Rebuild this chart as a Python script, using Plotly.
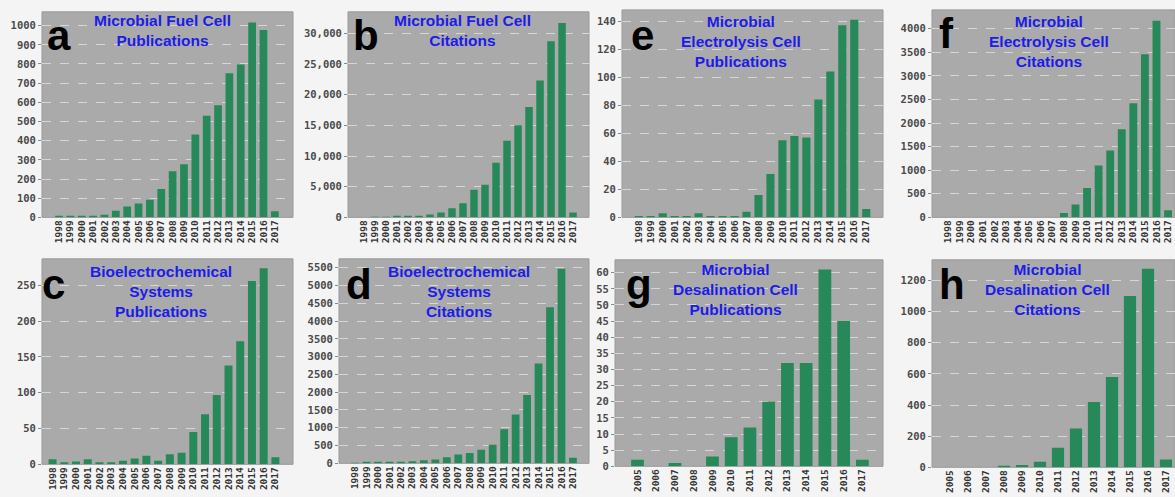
import plotly.graph_objects as go

W, H = 1175, 497

years_long = [str(y) for y in range(1998, 2018)]
years_short = [str(y) for y in range(2005, 2018)]

mfc_pub = [3, 8, 8, 8, 14, 35, 57, 72, 92, 148, 240, 277, 432, 530, 585, 752, 798, 1017, 978, 32]
mfc_cit = [0, 20, 80, 90, 120, 250, 450, 800, 1500, 2300, 4500, 5300, 8900, 12500, 15000, 18000, 22300, 28700, 31700, 800]
mec_pub = [1, 1, 3, 1, 1, 3, 1, 1, 1, 4, 16, 31, 55, 58, 57, 84, 104, 137, 141, 6]
mec_cit = [0, 0, 0, 0, 0, 0, 0, 0, 0, 0, 90, 270, 620, 1100, 1420, 1870, 2420, 3460, 4170, 150]
bes_pub = [7, 3, 4, 7, 3, 3, 5, 8, 12, 5, 14, 16, 45, 70, 97, 138, 172, 256, 274, 10]
bes_cit = [10, 15, 15, 15, 20, 60, 85, 110, 170, 250, 290, 380, 520, 960, 1370, 1920, 2810, 4390, 5470, 160]
mdc_pub = [2, 0, 1, 0, 3, 9, 12, 20, 32, 32, 61, 45, 2]
mdc_cit = [0, 0, 0, 8, 15, 35, 125, 250, 420, 580, 1100, 1275, 50]

letters = ["a", "b", "e", "f", "c", "d", "g", "h"]
titles = [
    "Microbial Fuel Cell<br>Publications",
    "Microbial Fuel Cell<br>Citations",
    "Microbial<br>Electrolysis Cell<br>Publications",
    "Microbial<br>Electrolysis Cell<br>Citations",
    "Bioelectrochemical<br>Systems<br>Publications",
    "Bioelectrochemical<br>Systems<br>Citations",
    "Microbial<br>Desalination Cell<br>Publications",
    "Microbial<br>Desalination Cell<br>Citations",
]

panels = [
    dict(xs=years_long, ys=mfc_pub, box=(42, 293, 12, 220), xr=[-1.5, 20.6], yr=[0, 1072], dt=100, fmt="", tx=162, ty=10, lx=45, ly=10),
    dict(xs=years_long, ys=mfc_cit, box=(348, 589, 12, 220), xr=[-1.45, 20.45], yr=[0, 33500], dt=5000, fmt=",", tx=462, ty=10, lx=351, ly=10),
    dict(xs=years_long, ys=mec_pub, box=(622, 883, 10, 220), xr=[-1.4, 20.4], yr=[0, 148], dt=20, fmt="", tx=741, ty=11, lx=629, ly=10),
    dict(xs=years_long, ys=mec_cit, box=(932, 1175, 10, 220), xr=[-1.4, 19.6], yr=[0, 4400], dt=500, fmt="", tx=1049, ty=11, lx=937, ly=8),
    dict(xs=years_long, ys=bes_pub, box=(42, 293, 262, 470), xr=[-0.9, 20.5], yr=[0, 287], dt=50, fmt="", tx=161, ty=264, lx=40, ly=262),
    dict(xs=years_long, ys=bes_cit, box=(339, 589, 262, 469), xr=[-1.4, 20.4], yr=[0, 5750], dt=500, fmt="", tx=459, ty=264, lx=344, ly=262),
    dict(xs=years_short, ys=mdc_pub, box=(615, 883, 263, 472), xr=[-1.2, 13.1], yr=[0, 64], dt=5, fmt="", tx=736, ty=262, lx=624, ly=262),
    dict(xs=years_short, ys=mdc_cit, box=(932, 1175, 263, 473), xr=[-1.0, 12.5], yr=[0, 1333], dt=200, fmt="", tx=1047, ty=262, lx=937, ly=262),
]

fig = go.Figure()
annotations = []
shapes = []
for i, p in enumerate(panels):
    n = "" if i == 0 else str(i + 1)
    x0, x1, y0, y1 = p["box"]
    fig.add_trace(go.Bar(
        x=p["xs"], y=p["ys"], xaxis="x" + n, yaxis="y" + n,
        marker=dict(color="#27895a", line=dict(width=0)), width=0.68,
        showlegend=False,
    ))
    fig.layout["xaxis" + n] = dict(
        domain=[x0 / W, min(x1 / W, 1)], anchor="y" + n, type="category",
        range=p["xr"], tickangle=-90, showgrid=False, zeroline=False,
        showline=False, ticks="",
        tickfont=dict(family="DejaVu Sans Mono", size=9.5, color="#333333", weight="bold"),
    )
    fig.layout["yaxis" + n] = dict(
        domain=[1 - y1 / H, 1 - y0 / H], anchor="x" + n, range=p["yr"],
        dtick=p["dt"], tick0=0, tickformat=p["fmt"],
        showgrid=True, gridcolor="#d6d6d6", griddash="dash", gridwidth=1,
        zeroline=False, showline=False, ticks="outside", ticklen=3,
        tickcolor="#888888",
        tickfont=dict(family="DejaVu Sans Mono", size=10.5, color="#4a4a4a", weight="bold"),
    )
    shapes.append(dict(type="rect", xref="paper", yref="paper",
                       x0=x0 / W, x1=min(x1 / W, 1), y0=1 - y1 / H, y1=1 - y0 / H,
                       fillcolor="#aaaaaa", line=dict(color="#999999", width=1),
                       layer="below"))
    annotations.append(dict(
        text="<b>" + titles[i] + "</b>", xref="paper", yref="paper",
        x=p["tx"] / W, y=1 - p["ty"] / H, xanchor="center", yanchor="top",
        showarrow=False, align="center",
        font=dict(family="Liberation Sans", size=15.5, color="#1c1ce8"),
    ))
    annotations.append(dict(
        text="<b>" + letters[i] + "</b>", xref="paper", yref="paper",
        x=p["lx"] / W, y=1 - p["ly"] / H, xanchor="left", yanchor="top",
        showarrow=False,
        font=dict(family="Liberation Sans", size=42, color="#000000"),
    ))

fig.update_layout(
    width=W, height=H, margin=dict(l=0, r=0, t=0, b=0),
    paper_bgcolor="#f4f4f4", plot_bgcolor="rgba(0,0,0,0)",
    bargap=0.3, annotations=annotations, shapes=shapes,
)

fig.write_html(
    "out.html",
    config={"displayModeBar": False},
    post_script="document.body.style.margin='0';document.body.style.background='#f4f4f4';",
)
